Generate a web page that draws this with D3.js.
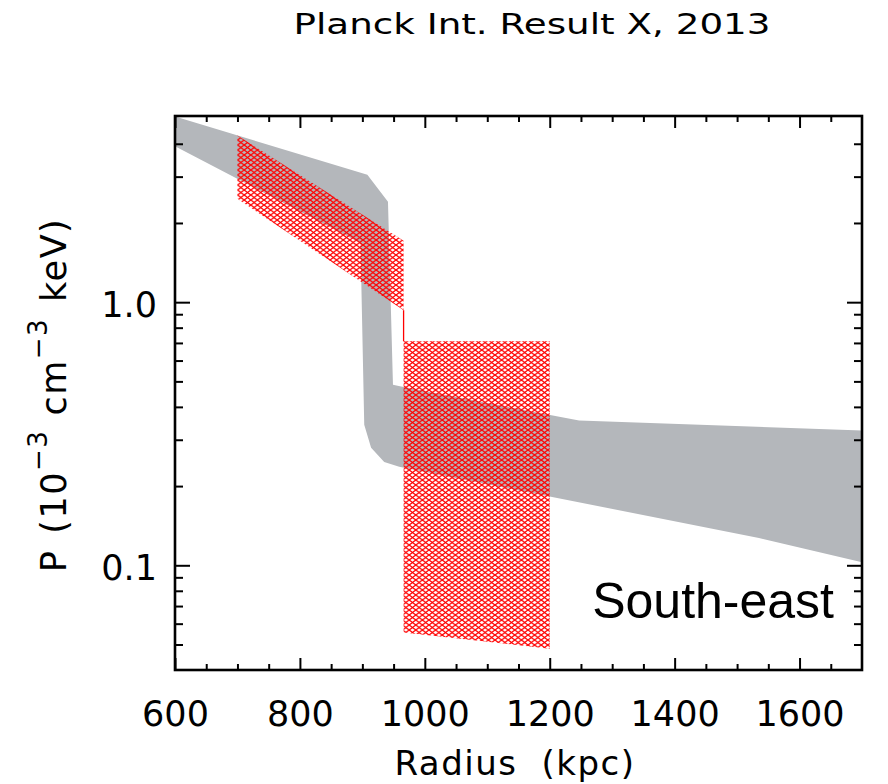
<!DOCTYPE html>
<html>
<head>
<meta charset="utf-8">
<title>Planck Int. Result X, 2013</title>
<script src="https://cdn.jsdelivr.net/npm/d3@7"></script>
<style>
	body { margin: 0; background: #ffffff; }
	svg { display: block; }
	text { font-family: "DejaVu Sans", sans-serif; fill: #000000; }
	.tick line { stroke: #000000; stroke-width: 2px; }
</style>
</head>
<body>
<svg id="chart" width="888" height="784"></svg>
<script>
	// grey band (radius in kpc, pressure in 1e-3 cm^-3 keV)
	var bandUpperR = [600, 908, 941, 949, 962, 1247, 1700];
	var bandUpperP = [5.08, 3.05, 2.41, 0.486, 0.478, 0.355, 0.325];
	var bandLowerR = [600, 897, 903, 914, 935, 959, 1535, 1700];
	var bandLowerP = [3.91, 1.68, 0.342, 0.28, 0.247, 0.237, 0.127, 0.1027];

	// red hatched boxes
	var innerR = [700, 966];
	var innerTop = [4.30, 1.71];
	var innerBot = [2.47, 0.932];
	var outerR = [966, 1200];
	var outerTop = [0.71, 0.71];
	var outerBot = [0.0555, 0.0482];

	// ticks
	var xMajor = [600, 800, 1000, 1200, 1400, 1600];
	var xMinor = [650, 700, 750, 850, 900, 950, 1050, 1100, 1150, 1250, 1300, 1350, 1450, 1500, 1550, 1650];
	var yMajor = [0.1, 1.0];
	var yMajorLabels = ["0.1", "1.0"];
	var yMinor = [0.05, 0.06, 0.07, 0.08, 0.09, 0.2, 0.3, 0.4, 0.5, 0.6, 0.7, 0.8, 0.9, 2, 3, 4];

	// plot box (window.top is taken, so prefix these)
	var pLeft = 175, pRight = 862, pTop = 116, pBottom = 670;

	var svg = d3.select("#chart");

	var x = d3.scaleLinear().domain([600, 1700]).range([pLeft, pRight]);
	var y = d3.scaleLog().domain([0.04, 5.1]).range([pBottom, pTop]);

	var defs = svg.append("defs");
	defs.append("clipPath")
		.attr("id", "plotclip")
		.append("rect")
		.attr("x", pLeft).attr("y", pTop)
		.attr("width", pRight - pLeft).attr("height", pBottom - pTop);

	// cross hatch
	var pw = 6.6, ph = 5;
	defs.append("pattern")
		.attr("id", "hatch")
		.attr("patternUnits", "userSpaceOnUse")
		.attr("width", pw).attr("height", ph)
		.append("path")
		.attr("d", "M" + (-pw) + "," + (-ph) + "L" + (2 * pw) + "," + (2 * ph) +
			"M" + (-pw) + "," + (2 * ph) + "L" + (2 * pw) + "," + (-ph))
		.style("stroke", "#ff0000")
		.style("stroke-width", "1.3px")
		.style("fill", "none");

	var plot = svg.append("g").attr("clip-path", "url(#plotclip)");

	// grey band polygon: upper edge then lower edge backwards
	var bandPts = bandUpperR.map(function (r, i) { return [r, bandUpperP[i]]; })
		.concat(bandLowerR.map(function (r, i) { return [r, bandLowerP[i]]; }).reverse());

	plot.append("path")
		.attr("d", d3.line().x(function (d) { return x(d[0]); }).y(function (d) { return y(d[1]); })(bandPts) + "Z")
		.style("fill", "#b4b7bb")
		.style("stroke", "none");

	var box = d3.area()
		.x(function (d) { return x(d.r); })
		.y0(function (d) { return y(d.lo); })
		.y1(function (d) { return y(d.hi); });

	var inner = innerR.map(function (r, i) { return {r: r, lo: innerBot[i], hi: innerTop[i]}; });
	var outer = outerR.map(function (r, i) { return {r: r, lo: outerBot[i], hi: outerTop[i]}; });

	plot.selectAll("path.hatch")
		.data([inner, outer])
		.enter()
		.append("path")
		.attr("class", "hatch")
		.attr("d", box)
		.style("fill", "url(#hatch)");

	// thin step between the two boxes
	plot.append("line")
		.attr("x1", x(outerR[0])).attr("x2", x(outerR[0]))
		.attr("y1", y(innerBot[1])).attr("y2", y(outerTop[0]))
		.style("stroke", "#ff0000")
		.style("stroke-width", "1.3px");

	// axes, ticks pointing inward on all four sides
	function noDomain(g) { g.select(".domain").remove(); }

	svg.append("g")
		.attr("transform", "translate(0," + pBottom + ")")
		.call(d3.axisBottom(x).tickValues(xMajor).tickSize(-12).tickPadding(31).tickFormat(d3.format("d")))
		.call(noDomain)
		.selectAll("text").style("font-size", "35px").style("font-family", "DejaVu Sans");
	svg.append("g")
		.attr("transform", "translate(0," + pBottom + ")")
		.call(d3.axisBottom(x).tickValues(xMinor).tickSize(-6).tickFormat(""))
		.call(noDomain);
	svg.append("g")
		.attr("transform", "translate(0," + pTop + ")")
		.call(d3.axisTop(x).tickValues(xMajor).tickSize(-12).tickFormat(""))
		.call(noDomain);
	svg.append("g")
		.attr("transform", "translate(0," + pTop + ")")
		.call(d3.axisTop(x).tickValues(xMinor).tickSize(-6).tickFormat(""))
		.call(noDomain);

	svg.append("g")
		.attr("transform", "translate(" + pLeft + ",0)")
		.call(d3.axisLeft(y).tickValues(yMajor).tickSize(-15).tickPadding(18)
			.tickFormat(function (d, i) { return yMajorLabels[i]; }))
		.call(noDomain)
		.selectAll("text")
		.attr("dy", "0.41em")
		.style("font-size", "35px").style("font-family", "DejaVu Sans");
	svg.append("g")
		.attr("transform", "translate(" + pLeft + ",0)")
		.call(d3.axisLeft(y).tickValues(yMinor).tickSize(-8).tickFormat(""))
		.call(noDomain);
	svg.append("g")
		.attr("transform", "translate(" + pRight + ",0)")
		.call(d3.axisRight(y).tickValues(yMajor).tickSize(-15).tickFormat(""))
		.call(noDomain);
	svg.append("g")
		.attr("transform", "translate(" + pRight + ",0)")
		.call(d3.axisRight(y).tickValues(yMinor).tickSize(-8).tickFormat(""))
		.call(noDomain);

	// frame
	svg.append("rect")
		.attr("x", pLeft).attr("y", pTop)
		.attr("width", pRight - pLeft).attr("height", pBottom - pTop)
		.style("fill", "none")
		.style("stroke", "#000000")
		.style("stroke-width", "2.6px");

	// title
	svg.append("text")
		.attr("x", 532).attr("y", 34)
		.attr("text-anchor", "middle")
		.attr("textLength", 477)
		.attr("lengthAdjust", "spacingAndGlyphs")
		.style("font-size", "29px")
		.text("Planck Int. Result X, 2013");

	// x title
	var xt = svg.append("text")
		.attr("x", 515).attr("y", 775)
		.attr("text-anchor", "middle")
		.style("font-size", "34px")
		.style("letter-spacing", "1.5px");
	xt.append("tspan").text("Radius");
	xt.append("tspan").attr("dx", 24).text("(kpc)");

	// y title
	var yt = svg.append("text")
		.attr("transform", "translate(66,395) rotate(-90)")
		.attr("text-anchor", "middle")
		.style("font-size", "35px")
		.style("letter-spacing", "1.5px");
	yt.append("tspan").text("P");
	yt.append("tspan").attr("dx", 16).text("(10");
	yt.append("tspan").attr("dy", -19).style("font-size", "26px").text("\u22123");
	yt.append("tspan").attr("dy", 19).attr("dx", 14).text("cm");
	yt.append("tspan").attr("dy", -19).style("font-size", "26px").text("\u22123");
	yt.append("tspan").attr("dy", 19).attr("dx", 16).text("keV)");

	// region label
	svg.append("text")
		.attr("x", 834).attr("y", 618)
		.attr("text-anchor", "end")
		.style("font-family", "Liberation Sans, Arial, sans-serif")
		.style("font-size", "50px")
		.text("South-east");
</script>
</body>
</html>
